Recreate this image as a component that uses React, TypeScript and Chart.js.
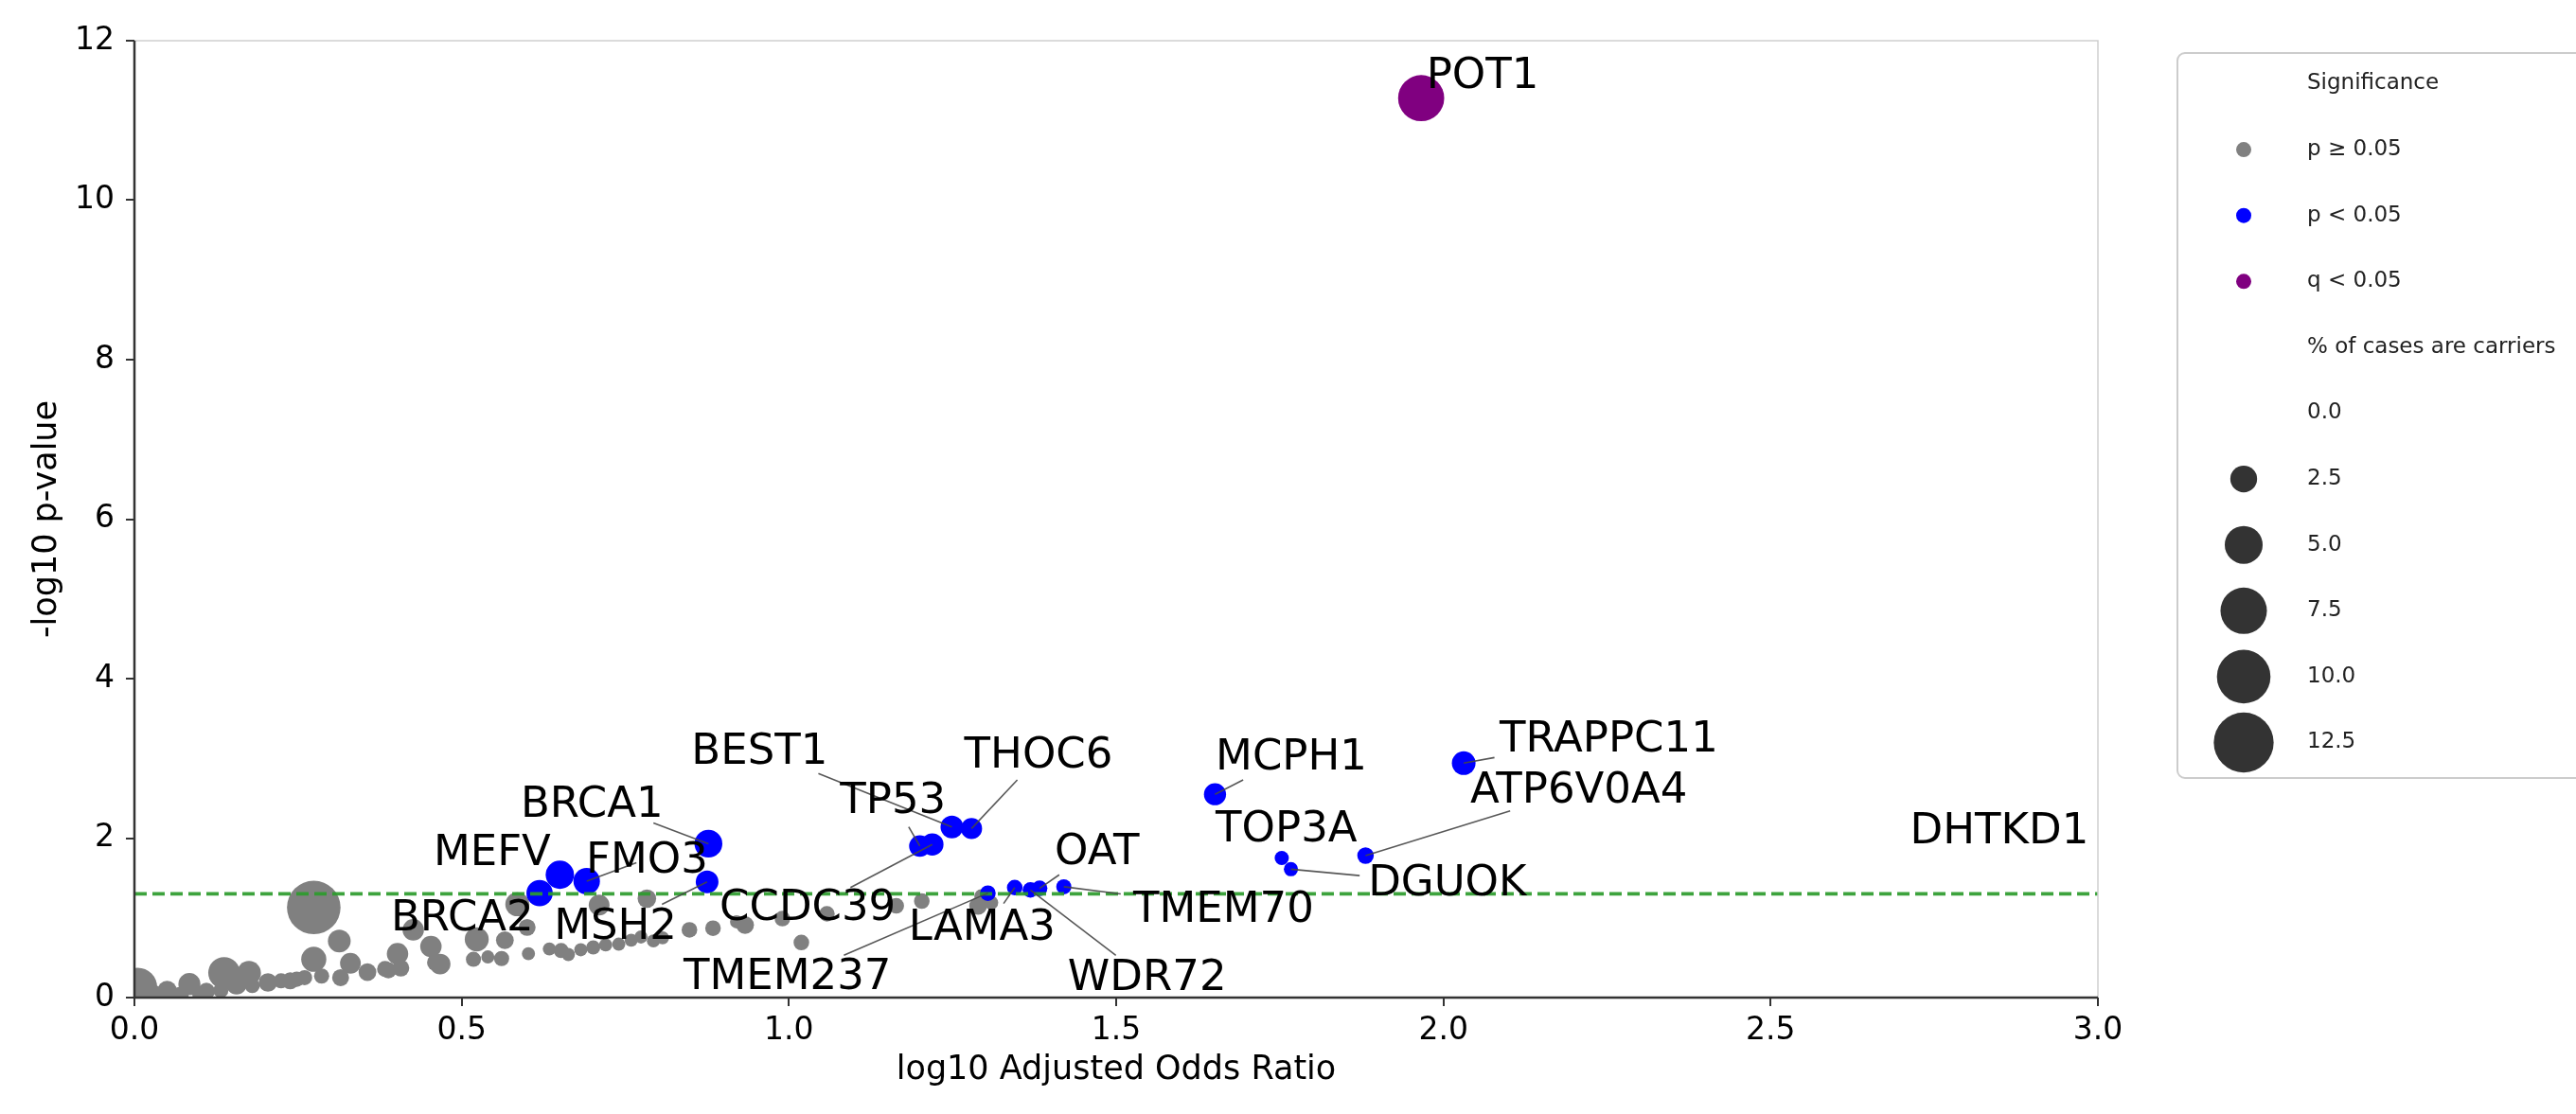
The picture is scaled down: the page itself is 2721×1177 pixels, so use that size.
import React, { useEffect, useRef } from 'react';
import { Chart, registerables } from 'chart.js';

Chart.register(...registerables);

// ---------------- DATA ----------------
// p >= 0.05 (grey)
const grayX = [0.005, 0.02, 0.03, 0.05, 0.07, 0.084, 0.1, 0.11, 0.132, 0.137, 0.156, 0.175, 0.18, 0.204, 0.224, 0.238, 0.248, 0.26, 0.274, 0.274, 0.286, 0.313, 0.315, 0.33, 0.356, 0.383, 0.388, 0.402, 0.407, 0.426, 0.453, 0.46, 0.467, 0.518, 0.523, 0.54, 0.561, 0.566, 0.585, 0.6, 0.602, 0.634, 0.652, 0.663, 0.682, 0.701, 0.71, 0.72, 0.74, 0.759, 0.774, 0.783, 0.793, 0.807, 0.848, 0.884, 0.92, 0.933, 0.99, 1.019, 1.058, 1.164, 1.203, 1.289, 1.294, 1.309];
const grayY = [0.13, 0.03, 0.05, 0.09, 0.03, 0.17, 0.04, 0.08, 0.09, 0.31, 0.17, 0.31, 0.15, 0.19, 0.21, 0.21, 0.23, 0.25, 1.13, 0.48, 0.27, 0.71, 0.25, 0.43, 0.32, 0.36, 0.34, 0.55, 0.37, 0.85, 0.64, 0.44, 0.42, 0.48, 0.73, 0.51, 0.49, 0.72, 1.17, 0.88, 0.55, 0.61, 0.59, 0.54, 0.6, 0.63, 1.16, 0.66, 0.67, 0.72, 0.76, 1.24, 0.71, 0.75, 0.85, 0.87, 0.95, 0.91, 0.99, 0.69, 1.05, 1.15, 1.21, 1.15, 1.27, 1.19];
const grayPct = [5.3, 1.2, 1.0, 1.3, 1.0, 1.7, 0.8, 1.0, 0.8, 3.5, 1.5, 2.0, 0.8, 1.2, 0.8, 1.0, 0.8, 0.8, 10, 2.2, 0.8, 1.8, 1.0, 1.5, 1.1, 0.9, 0.9, 1.6, 1.0, 1.6, 1.6, 1.0, 1.5, 0.8, 2.0, 0.6, 0.8, 1.1, 2.0, 1.0, 0.6, 0.6, 0.8, 0.6, 0.6, 0.7, 1.5, 0.6, 0.6, 0.6, 0.6, 1.2, 0.6, 0.6, 0.85, 0.85, 0.6, 1.1, 0.85, 0.85, 0.85, 0.85, 0.85, 1.1, 0.7, 0.7];

// p < 0.05 (blue)
const blueGenes = ['BRCA2', 'MEFV', 'FMO3', 'MSH2', 'BRCA1', 'TP53', 'CCDC39', 'BEST1', 'THOC6', 'TMEM237', 'LAMA3', 'WDR72', 'OAT', 'TMEM70', 'MCPH1', 'TOP3A', 'DGUOK', 'ATP6V0A4', 'TRAPPC11'];
const blueX = [0.619, 0.65, 0.691, 0.875, 0.877, 1.2, 1.219, 1.249, 1.279, 1.304, 1.345, 1.369, 1.383, 1.42, 1.651, 1.753, 1.767, 1.881, 2.031];
const blueY = [1.31, 1.54, 1.46, 1.45, 1.93, 1.9, 1.92, 2.14, 2.12, 1.31, 1.38, 1.35, 1.37, 1.39, 2.55, 1.75, 1.61, 1.78, 2.94];
const bluePct = [2.4, 2.8, 2.45, 1.8, 2.7, 1.6, 1.75, 1.8, 1.55, 0.85, 0.85, 0.85, 0.85, 0.8, 1.7, 0.7, 0.7, 0.95, 1.95];

// q < 0.05 (purple)
const purpleGenes = ['POT1'];
const purpleX = [1.966];
const purpleY = [11.28];
const purplePct = [7.4];

// Gene labels: text left x, baseline y, connector start (null = none)
const labelGenes = ['POT1', 'TRAPPC11', 'ATP6V0A4', 'DHTKD1', 'DGUOK', 'TOP3A', 'MCPH1', 'TMEM70', 'OAT', 'WDR72', 'LAMA3', 'TMEM237', 'CCDC39', 'THOC6', 'TP53', 'BEST1', 'BRCA1', 'MEFV', 'FMO3', 'BRCA2', 'MSH2'];
const labelX = [1.974, 2.086, 2.041, 2.713, 1.885, 1.652, 1.652, 1.526, 1.406, 1.426, 1.183, 0.839, 0.894, 1.268, 1.078, 0.851, 0.59, 0.457, 0.69, 0.392, 0.641];
const labelY = [11.41, 3.09, 2.45, 1.93, 1.28, 1.96, 2.86, 0.95, 1.67, 0.09, 0.72, 0.11, 0.97, 2.89, 2.32, 2.93, 2.27, 1.66, 1.57, 0.84, 0.74];
const arrowFromX = [null, 2.078, 2.102, null, 1.872, null, 1.694, 1.507, 1.413, 1.4995, 1.328, 1.084, 1.094, 1.349, 1.183, 1.045, 0.793, null, 0.767, null, 0.806];
const arrowFromY = [null, 3.01, 2.34, null, 1.53, null, 2.73, 1.3, 1.54, 0.53, 1.18, 0.53, 1.38, 2.73, 2.14, 2.81, 2.19, null, 1.69, null, 1.17];

const pThreshold = 1.301; // -log10(0.05)
const xMin = 0, xMax = 3, xStep = 0.5;
const yMin = 0, yMax = 12, yStep = 2;
const xTitle = 'log10 Adjusted Odds Ratio';
const yTitle = '-log10 p-value';

const legendSigTitle = 'Significance';
const legendSigLabels = ['p ≥ 0.05', 'p < 0.05', 'q < 0.05'];
const legendSizeTitle = '% of cases are carriers';
const legendSizes = [0.0, 2.5, 5.0, 7.5, 10.0, 12.5];

// ---------------- STYLE ----------------
const FONT = '"DejaVu Sans", "Liberation Sans", sans-serif';
const SIZE_K = 8.95;
const GRAY = '#808080';
const BLUE = '#0000ff';
const PURPLE = '#800080';
const radiusOf = (pct: number) => SIZE_K * Math.sqrt(Math.max(pct, 0));

export default function App() {
  const ref = useRef<HTMLCanvasElement>(null);

  useEffect(() => {
    const canvas = ref.current;
    if (!canvas) return;
    Chart.defaults.font.family = FONT;

    const mk = (xs: number[], ys: number[], ps: number[]) =>
      xs.map((x, i) => ({ x, y: ys[i], pct: ps[i] }));

    const allGenes = [...blueGenes, ...purpleGenes];
    const allX = [...blueX, ...purpleX];
    const allY = [...blueY, ...purpleY];

    const overlay = {
      id: 'overlay',
      afterDatasetsDraw(chart: any) {
        const { ctx, chartArea: a, scales } = chart;
        const xs = scales.x, ys = scales.y;
        ctx.save();
        // threshold line
        ctx.beginPath();
        ctx.rect(a.left, a.top, a.right - a.left, a.bottom - a.top);
        ctx.clip();
        ctx.strokeStyle = 'rgba(44,155,44,0.92)';
        ctx.lineWidth = 3.8;
        ctx.setLineDash([13, 6]);
        const ty = ys.getPixelForValue(pThreshold);
        ctx.beginPath();
        ctx.moveTo(a.left, ty);
        ctx.lineTo(a.right, ty);
        ctx.stroke();
        ctx.setLineDash([]);
        // connectors
        ctx.strokeStyle = 'rgba(70,70,70,0.9)';
        ctx.lineWidth = 1.6;
        labelGenes.forEach((g, i) => {
          const fx = arrowFromX[i], fy = arrowFromY[i];
          const j = allGenes.indexOf(g);
          if (fx === null || fy === null || j < 0) return;
          ctx.beginPath();
          ctx.moveTo(xs.getPixelForValue(fx), ys.getPixelForValue(fy));
          ctx.lineTo(xs.getPixelForValue(allX[j]), ys.getPixelForValue(allY[j]));
          ctx.stroke();
        });
        ctx.restore();

        ctx.save();
        // labels
        ctx.fillStyle = '#000';
        ctx.font = `45px ${FONT}`;
        ctx.textAlign = 'left';
        ctx.textBaseline = 'alphabetic';
        labelGenes.forEach((g, i) => {
          ctx.fillText(g, xs.getPixelForValue(labelX[i]), ys.getPixelForValue(labelY[i]));
        });
        // spines
        ctx.lineCap = 'butt';
        ctx.strokeStyle = '#cfcfcf';
        ctx.lineWidth = 1.5;
        ctx.beginPath();
        ctx.moveTo(a.left, a.top);
        ctx.lineTo(a.right, a.top);
        ctx.lineTo(a.right, a.bottom);
        ctx.stroke();
        ctx.strokeStyle = '#333';
        ctx.lineWidth = 2.5;
        ctx.beginPath();
        ctx.moveTo(a.left, a.top);
        ctx.lineTo(a.left, a.bottom);
        ctx.lineTo(a.right, a.bottom);
        ctx.stroke();
        ctx.restore();
      },
      afterDraw(chart: any) {
        const { ctx } = chart;
        ctx.save();
        // legend box
        const bx = 2300, by = 56, bw = 460, bh = 766;
        ctx.beginPath();
        (ctx as any).roundRect(bx, by, bw, bh, 8);
        ctx.fillStyle = '#fff';
        ctx.fill();
        ctx.strokeStyle = '#cccccc';
        ctx.lineWidth = 2;
        ctx.stroke();

        const textX = 2437, markX = 2370, row0 = 88.5, dy = 69.6;
        ctx.font = `23px ${FONT}`;
        ctx.fillStyle = '#222';
        ctx.textAlign = 'left';
        ctx.textBaseline = 'middle';
        let row = 0;
        ctx.fillText(legendSigTitle, textX, row0 + dy * row);
        row++;
        const sigColors = [GRAY, BLUE, PURPLE];
        legendSigLabels.forEach((lab, i) => {
          const y = row0 + dy * row;
          ctx.fillStyle = sigColors[i];
          ctx.beginPath();
          ctx.arc(markX, y, 8, 0, Math.PI * 2);
          ctx.fill();
          ctx.fillStyle = '#222';
          ctx.fillText(lab, textX, y);
          row++;
        });
        ctx.fillText(legendSizeTitle, textX, row0 + dy * row);
        row++;
        legendSizes.forEach((s) => {
          const y = row0 + dy * row;
          const r = radiusOf(s);
          if (r > 0) {
            ctx.fillStyle = '#333333';
            ctx.beginPath();
            ctx.arc(markX, y, r, 0, Math.PI * 2);
            ctx.fill();
          }
          ctx.fillStyle = '#222';
          ctx.fillText(s.toFixed(1), textX, y);
          row++;
        });
        ctx.restore();
      },
    };

    const ptRadius = (c: any) => (c.raw ? radiusOf(c.raw.pct) : 0);

    const chart = new Chart(canvas, {
      type: 'scatter',
      data: {
        datasets: [
          {
            label: 'q < 0.05',
            data: mk(purpleX, purpleY, purplePct),
            backgroundColor: PURPLE,
            pointRadius: ptRadius,
            pointHoverRadius: ptRadius,
            pointBorderWidth: 0,
            clip: 0,
          },
          {
            label: 'p < 0.05',
            data: mk(blueX, blueY, bluePct),
            backgroundColor: BLUE,
            pointRadius: ptRadius,
            pointHoverRadius: ptRadius,
            pointBorderWidth: 0,
            clip: 0,
          },
          {
            label: 'p ≥ 0.05',
            data: mk(grayX, grayY, grayPct),
            backgroundColor: GRAY,
            pointRadius: ptRadius,
            pointHoverRadius: ptRadius,
            pointBorderWidth: 0,
            clip: 0,
          },
        ] as any,
      },
      options: {
        responsive: false,
        animation: false,
        devicePixelRatio: 1,
        events: [],
        layout: { padding: { left: 0, top: 43, right: 505, bottom: 0 } },
        plugins: { legend: { display: false }, tooltip: { enabled: false } },
        scales: {
          x: {
            type: 'linear',
            min: xMin,
            max: xMax,
            afterFit: (s: any) => { s.height = 123; },
            ticks: {
              stepSize: xStep,
              autoSkip: false,
              maxRotation: 0,
              padding: 7,
              color: '#000',
              font: { size: 33, family: FONT },
              callback: (v: any) => Number(v).toFixed(1),
            },
            grid: { drawOnChartArea: false, drawTicks: true, tickLength: 9, color: '#333', lineWidth: 2 },
            border: { display: false },
            title: {
              display: true,
              text: xTitle,
              color: '#000',
              font: { size: 35, family: FONT },
              padding: { top: 0, bottom: 25 },
            },
          },
          y: {
            type: 'linear',
            min: yMin,
            max: yMax,
            afterFit: (s: any) => { s.width = 142; },
            ticks: {
              stepSize: yStep,
              padding: 12,
              color: '#000',
              font: { size: 33, family: FONT },
            },
            grid: { drawOnChartArea: false, drawTicks: true, tickLength: 9, color: '#333', lineWidth: 2 },
            border: { display: false },
            title: {
              display: true,
              text: yTitle,
              color: '#000',
              font: { size: 35, family: FONT },
              padding: { top: 29, bottom: 0 },
            },
          },
        },
      } as any,
      plugins: [overlay],
    });

    return () => chart.destroy();
  }, []);

  return (
    <div style={{ position: 'fixed', left: 0, top: 0, width: 2721, height: 1177, background: '#fff', overflow: 'hidden' }}>
      <canvas ref={ref} width={2721} height={1177} style={{ display: 'block', width: 2721, height: 1177 }} />
    </div>
  );
}
